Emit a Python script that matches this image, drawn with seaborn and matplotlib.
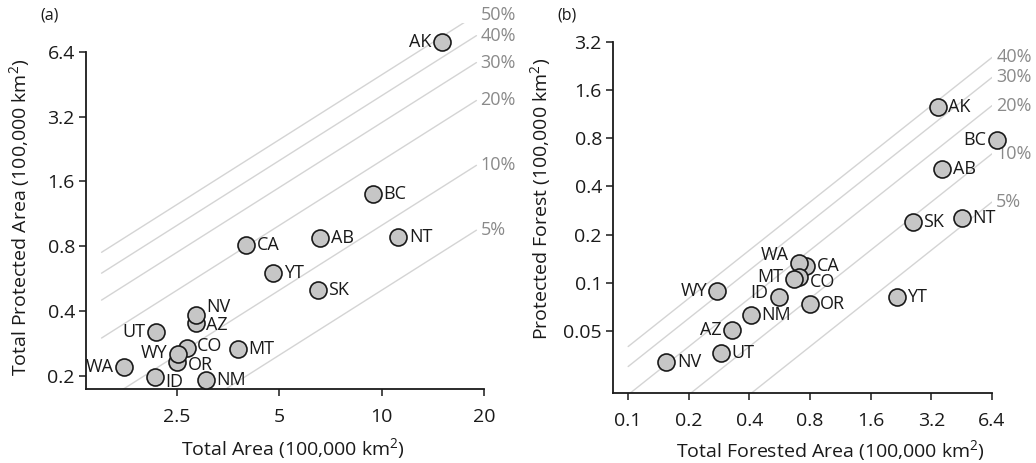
import numpy as np
import pandas as pd
import matplotlib
matplotlib.use("Agg")
import matplotlib.pyplot as plt
from matplotlib.ticker import NullLocator
import seaborn as sns

# ---------------- data ----------------
# Panel (a): total area vs total protected area (100,000 km2)
a_names = ['AK', 'BC', 'NT', 'AB', 'CA', 'YT', 'SK', 'AZ', 'NV', 'UT', 'CO', 'OR', 'WY', 'MT', 'WA', 'ID', 'NM']
a_total = [15.0, 9.4, 11.2, 6.6, 4.0, 4.8, 6.5, 2.84, 2.84, 2.17, 2.67, 2.5, 2.52, 3.78, 1.75, 2.15, 3.04]
a_protected = [7.1, 1.40, 0.88, 0.87, 0.81, 0.60, 0.50, 0.353, 0.384, 0.320, 0.270, 0.232, 0.253, 0.267, 0.220, 0.198, 0.192]

# Panel (b): total forested area vs protected forest (100,000 km2)
b_names = ['AK', 'BC', 'AB', 'SK', 'NT', 'YT', 'CA', 'WA', 'CO', 'MT', 'WY', 'ID', 'OR', 'NM', 'AZ', 'UT', 'NV']
b_forest = [3.45, 6.77, 3.62, 2.59, 4.54, 2.16, 0.764, 0.706, 0.706, 0.666, 0.277, 0.560, 0.795, 0.408, 0.328, 0.290, 0.155]
b_protected = [1.26, 0.78, 0.515, 0.240, 0.255, 0.081, 0.128, 0.133, 0.109, 0.106, 0.089, 0.082, 0.074, 0.063, 0.051, 0.0366, 0.0321]

a_pcts = [0.50, 0.40, 0.30, 0.20, 0.10, 0.05]
a_pct_labels = ['50%', '40%', '30%', '20%', '10%', '5%']
b_pcts = [0.40, 0.30, 0.20, 0.10, 0.05]
b_pct_labels = ['40%', '30%', '20%', '10%', '5%']

a_xticks = [2.5, 5, 10, 20]
a_xticklabels = ['2.5', '5', '10', '20']
a_yticks = [0.2, 0.4, 0.8, 1.6, 3.2, 6.4]
a_yticklabels = ['0.2', '0.4', '0.8', '1.6', '3.2', '6.4']
b_xticks = [0.1, 0.2, 0.4, 0.8, 1.6, 3.2, 6.4]
b_xticklabels = ['0.1', '0.2', '0.4', '0.8', '1.6', '3.2', '6.4']
b_yticks = [0.05, 0.1, 0.2, 0.4, 0.8, 1.6, 3.2]
b_yticklabels = ['0.05', '0.1', '0.2', '0.4', '0.8', '1.6', '3.2']

# label placement (side, vertical offset in px); default right of point
a_place = {'AK': ('L', 0), 'UT': ('L', 0), 'WY': ('L', 1), 'WA': ('L', 0),
           'NV': ('R', 8), 'AZ': ('R', -2), 'CO': ('R', 2), 'OR': ('R', -3),
           'ID': ('R', -5)}
b_place = {'BC': ('L', 0), 'WA': ('L', 8), 'MT': ('L', 2), 'WY': ('L', 0),
           'ID': ('L', 4), 'AZ': ('L', 0), 'CO': ('R', -5)}

# ---------------- style ----------------
sns.set_style("ticks")
plt.rcParams['font.family'] = ['Open Sans', 'DejaVu Sans']
plt.rcParams['mathtext.fontset'] = 'custom'
plt.rcParams['mathtext.rm'] = 'Open Sans'
plt.rcParams['mathtext.it'] = 'Open Sans'
plt.rcParams['mathtext.bf'] = 'Open Sans'

FS = 13        # point / percent labels
FS_TICK = 14
FS_AX = 14
TXT = '#1a1a1a'
LINE_C = '#d4d4d4'
PCT_C = '#8a8a8a'
FACE = '#c6c6c6'
EDGE = '#1a1a1a'

W, H = 1036, 463
fig = plt.figure(figsize=(W / 100, H / 100), dpi=100)
axA = fig.add_axes([86 / W, (H - 389) / H, 398 / W, 366 / H])
axB = fig.add_axes([613 / W, (H - 393) / H, 379 / W, 363 / H])


def style_axis(ax, xlim, ylim, xticks, xtl, yticks, ytl):
    ax.set_xscale('log', base=2)
    ax.set_yscale('log', base=2)
    ax.set_xlim(*xlim)
    ax.set_ylim(*ylim)
    ax.set_xticks(xticks)
    ax.set_xticklabels(xtl)
    ax.set_yticks(yticks)
    ax.set_yticklabels(ytl)
    ax.xaxis.set_minor_locator(NullLocator())
    ax.yaxis.set_minor_locator(NullLocator())
    for s in ['top', 'right']:
        ax.spines[s].set_visible(False)
    ax.spines['left'].set_bounds(ylim[0], yticks[-1])
    ax.spines['bottom'].set_bounds(xlim[0], xticks[-1])
    for s in ['left', 'bottom']:
        ax.spines[s].set_linewidth(1.3)
        ax.spines[s].set_color(TXT)
    ax.tick_params(axis='both', direction='out', length=5, width=1.1,
                   colors=TXT, labelsize=FS_TICK, labelcolor=TXT)
    ax.tick_params(axis='x', pad=9)
    ax.tick_params(axis='y', pad=3)
    ax.set_facecolor('none')


def draw(ax, names, xs, ys, pcts, pct_labels, x0, x1, place):
    # percentage reference lines
    xx = np.geomspace(x0, x1, 50)
    for p, lab in zip(pcts, pct_labels):
        ln = pd.DataFrame({'x': xx, 'y': p * xx})
        sns.lineplot(data=ln, x='x', y='y', ax=ax, color=LINE_C, lw=1.0,
                     zorder=1, sort=False, estimator=None)
        ax.annotate(lab, xy=(x1, p * x1), xytext=(3, 0), textcoords='offset points',
                    ha='left', va='center', fontsize=FS, color=PCT_C,
                    annotation_clip=False)
    df = pd.DataFrame({'name': names, 'x': xs, 'y': ys})
    sns.scatterplot(data=df, x='x', y='y', ax=ax, s=150, color=FACE,
                    edgecolor=EDGE, linewidth=1.2, zorder=3, clip_on=False,
                    legend=False)
    for n, x, y in zip(names, xs, ys):
        side, dy = place.get(n, ('R', 0))
        dx = 7.5 if side == 'R' else -7.5
        ax.annotate(n, xy=(x, y), xytext=(dx, dy * 0.72), textcoords='offset points',
                    ha='left' if side == 'R' else 'right', va='center',
                    fontsize=FS, color=TXT, zorder=2, annotation_clip=False)


style_axis(axA, (1.35, 20), (0.174, 8.7), a_xticks, a_xticklabels, a_yticks, a_yticklabels)
draw(axA, a_names, a_total, a_protected, a_pcts, a_pct_labels, 1.5, 19.0, a_place)
axA.set_xlabel('Total Area (100,000 km$^2$)', fontsize=FS_AX, color=TXT)
axA.set_ylabel('Total Protected Area (100,000 km$^2$)', fontsize=FS_AX, color=TXT)
axA.xaxis.set_label_coords(0.52, -0.128)
axA.yaxis.set_label_coords(-0.136, 0.468)

style_axis(axB, (0.0841, 6.4), (0.0205, 3.8), b_xticks, b_xticklabels, b_yticks, b_yticklabels)
draw(axB, b_names, b_forest, b_protected, b_pcts, b_pct_labels, 0.1, 6.4, b_place)
axB.set_xlabel('Total Forested Area (100,000 km$^2$)', fontsize=FS_AX, color=TXT)
axB.set_ylabel('Protected Forest (100,000 km$^2$)', fontsize=FS_AX, color=TXT)
axB.xaxis.set_label_coords(0.573, -0.124)
axB.yaxis.set_label_coords(-0.158, 0.535)

fig.text(40 / W, 1 - 15 / H, '(a)', fontsize=11.5, color=TXT, va='center', ha='left')
fig.text(557 / W, 1 - 15 / H, '(b)', fontsize=11.5, color=TXT, va='center', ha='left')

fig.savefig('out.png', dpi=100)
